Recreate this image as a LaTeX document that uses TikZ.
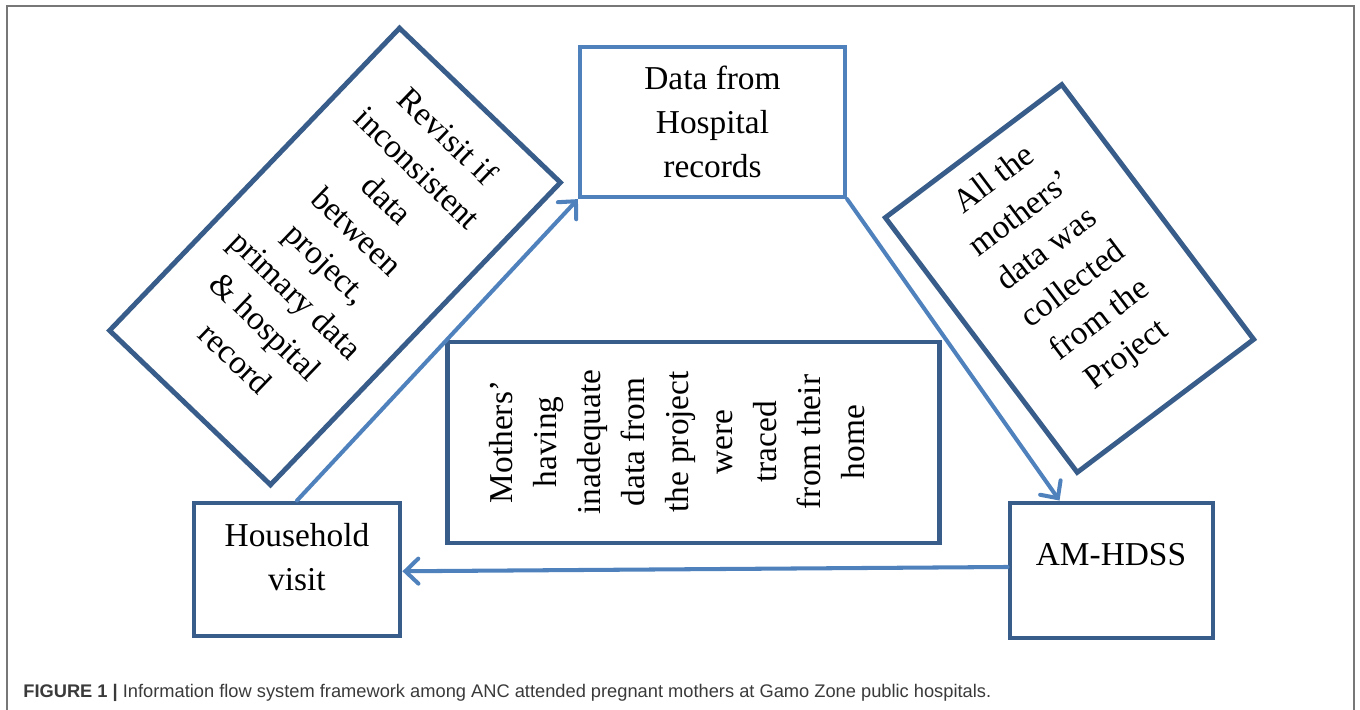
\documentclass[tikz,border=0pt]{standalone}
\usepackage{fontspec}
\setmainfont{Liberation Serif}
\newfontfamily\capfont{Liberation Sans}
\usetikzlibrary{arrows.meta,calc}
\definecolor{darkbox}{HTML}{385D8A}
\definecolor{lightbox}{HTML}{4F81BD}
\definecolor{framegray}{HTML}{777777}
\definecolor{capgray}{HTML}{3A3A3A}

\begin{document}
\begin{tikzpicture}[x=0.02cm, y=-0.02cm,
  box/.style={draw=darkbox, line width=2.8pt, inner sep=0pt},
  boxtext/.style={font=\fontsize{19}{25}\selectfont, align=center},
  flow/.style={lightbox, line width=2.3pt, line cap=round,
    -{Straight Barb[length=2.6mm, width=5mm, line cap=round]}}]

  \useasboundingbox (0,0) rectangle (1360,710);
  \draw[framegray, line width=1.2pt] (7,710) -- (7,6) -- (1354,6) -- (1354,710);

  % boxes
  \node[box, draw=lightbox, line width=2.4pt, minimum width=5.3cm, minimum height=3cm, boxtext]
    (hospital) at (712.5,122) {Data from\\Hospital\\records};
  \node[box, minimum width=4.12cm, minimum height=2.66cm] (household) at (297,569.5) {};
  \node[box, minimum width=4.06cm, minimum height=2.7cm] (amhdss) at (1111.5,570.5) {};
  \node[box, minimum width=9.86cm, minimum height=4.02cm] (traced) at (693.5,442.5) {};
  \node[box, rotate=-43.8, minimum width=4.46cm, minimum height=8.38cm] (revisit) at (335,256.5) {};
  \node[box, rotate=37, minimum width=4.42cm, minimum height=6.38cm] (collected) at (1069.5,278.5) {};

  % texts
  \node[boxtext] (householdtext) at (297,557) {Household\\visit};
  \node[boxtext] (amhdsstext) at (1111,555) {AM-HDSS};
  \node[boxtext, rotate=90] (tracedtext) at (677,442) {Mothers’\\having\\inadequate\\data from\\the project\\were\\traced\\from their\\home};
  \node[boxtext, rotate=-43.8] (revisittext) at (342,247) {Revisit if\\inconsistent\\data\\between\\project,\\primary data\\\& hospital\\record};
  \node[boxtext, rotate=37] (collectedtext) at (1061,268) {All the\\mothers’\\data was\\collected\\from the\\Project};

  % arrows
  \draw[flow] (household.north) -- (hospital.south west);
  \draw[flow] (hospital.south east) -- ($(amhdss.north west)!0.25!(amhdss.north east)$);
  \draw[flow] ([yshift=2pt]amhdss.west) -- ([yshift=-1pt]household.east);

  \node[anchor=base west, font=\capfont\fontsize{10.4}{12}\selectfont, text=capgray, inner sep=0pt]
    (caption) at (23,697) {\textbf{FIGURE 1 |} Information flow system framework among ANC attended pregnant mothers at Gamo Zone public hospitals.};
\end{tikzpicture}
\end{document}
